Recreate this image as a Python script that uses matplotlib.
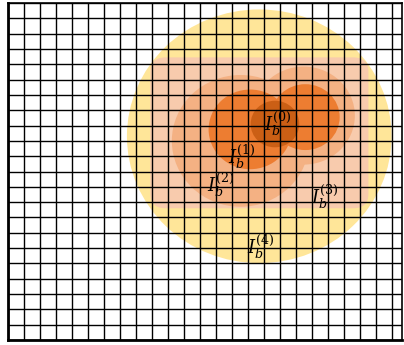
import matplotlib
matplotlib.use("Agg")
import matplotlib.pyplot as plt
from matplotlib.patches import Circle, FancyBboxPatch

plt.rcParams["mathtext.fontset"] = "dejavuserif"

# Grid extent (cell units)
x_max = 24.65
y_max = 22.0
grid_x = list(range(0, 25))
grid_y = list(range(0, 23))

# Level 4: outer circle (center x, center y, radius)
outer_circle = (15.72, 13.3, 8.28)
# Level 3: rounded rectangle (x0, y0, x1, y1, corner radius)
level3_box = (8.9, 8.6, 22.55, 18.45, 0.95)
# Level 2: union of two circles
level2_circles = [(14.55, 13.0, 4.3), (18.5, 14.65, 3.2)]
# Level 1: union of two circles
level1_circles = [(15.15, 13.75, 2.6), (18.6, 14.55, 2.15)]
# Level 0: core circle
level0_circle = (16.7, 14.1, 1.52)

level_colors = ["#C55A11", "#ED7D31", "#F4B183", "#F8CBAD", "#FFE699"]

# Label positions for I_b^(k)
label_levels = [0, 1, 2, 3, 4]
label_x = [16.9, 14.62, 13.33, 19.84, 15.83]
label_y = [14.1, 11.98, 10.12, 9.33, 6.07]

fig = plt.figure(figsize=(4.04, 3.45), dpi=100)
ax = fig.add_axes([8 / 404, 5 / 345, 394 / 404, 337 / 345])
ax.set_xlim(0, x_max)
ax.set_ylim(0, y_max)
ax.set_xticks([])
ax.set_yticks([])

cx, cy, r = outer_circle
ax.add_patch(Circle((cx, cy), r, color=level_colors[4], lw=0, zorder=1))

x0, y0, x1, y1, rad = level3_box
ax.add_patch(FancyBboxPatch((x0 + rad, y0 + rad), x1 - x0 - 2 * rad, y1 - y0 - 2 * rad,
                            boxstyle=f"round,pad={rad}", color=level_colors[3], lw=0, zorder=2))

for cx, cy, r in level2_circles:
    ax.add_patch(Circle((cx, cy), r, color=level_colors[2], lw=0, zorder=3))
for cx, cy, r in level1_circles:
    ax.add_patch(Circle((cx, cy), r, color=level_colors[1], lw=0, zorder=4))
cx, cy, r = level0_circle
ax.add_patch(Circle((cx, cy), r, color=level_colors[0], lw=0, alpha=0.85, zorder=5))

ax.vlines(grid_x, 0, y_max, colors="black", lw=1.0, zorder=6)
ax.hlines(grid_y, 0, x_max, colors="black", lw=1.0, zorder=6)

for k, x, y in zip(label_levels, label_x, label_y):
    ax.text(x, y, rf"$I_b^{{({k})}}$", fontsize=13, ha="center", va="center", zorder=7)

for side in ["left", "bottom"]:
    ax.spines[side].set_linewidth(2.0)
for side in ["top", "right"]:
    ax.spines[side].set_linewidth(1.2)
for s in ax.spines.values():
    s.set_zorder(8)

fig.savefig("out.png", dpi=100)
